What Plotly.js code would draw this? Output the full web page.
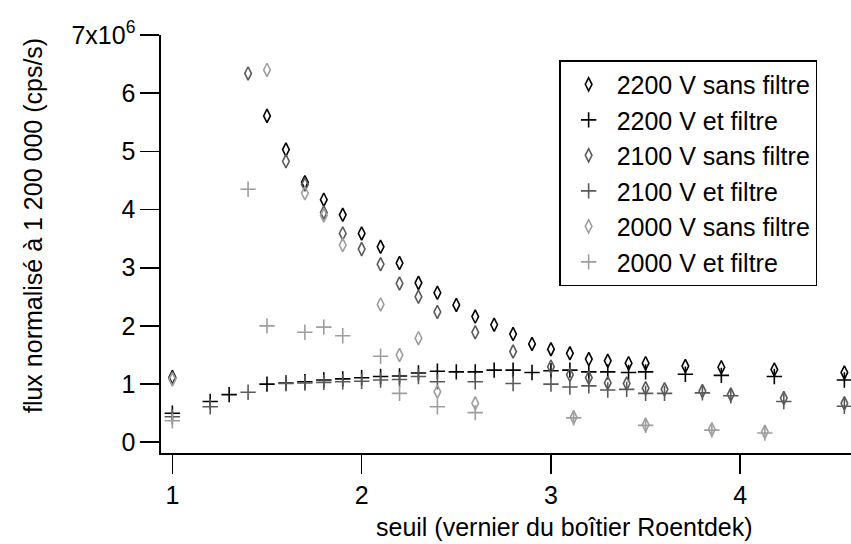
<!DOCTYPE html>
<html>
<head>
<meta charset="utf-8">
<script src="https://cdn.plot.ly/plotly-3.0.1.min.js"></script>
<style>html,body{margin:0;padding:0;background:#fff;}#chart{width:851px;height:544px;}</style>
</head>
<body>
<div id="chart"></div>
<script>
// seuil (vernier) values and normalised flux (in units of 10^6 cps/s)
const x2200Sans = [1.0,1.5,1.6,1.7,1.8,1.9,2.0,2.1,2.2,2.3,2.4,2.5,2.6,2.7,2.8,2.9,3.0,3.1,3.2,3.3,3.41,3.5,3.71,3.9,4.18,4.55];
const y2200Sans = [1.12,5.61,5.03,4.47,4.17,3.91,3.59,3.36,3.08,2.74,2.57,2.36,2.16,2.02,1.86,1.69,1.60,1.53,1.43,1.40,1.36,1.36,1.31,1.29,1.25,1.20];

const x2200Filtre = [1.0,1.2,1.3,1.5,1.6,1.7,1.8,1.9,2.0,2.1,2.2,2.3,2.4,2.5,2.6,2.7,2.8,2.9,3.0,3.1,3.2,3.3,3.41,3.5,3.71,3.9,4.18,4.55];
const y2200Filtre = [0.50,0.70,0.82,1.00,1.02,1.04,1.07,1.09,1.11,1.13,1.14,1.19,1.22,1.21,1.21,1.24,1.24,1.20,1.23,1.24,1.21,1.21,1.20,1.21,1.17,1.15,1.13,1.07];

const x2100Sans = [1.0,1.4,1.6,1.7,1.8,1.9,2.0,2.1,2.2,2.3,2.4,2.6,2.8,3.0,3.1,3.2,3.3,3.4,3.5,3.6,3.8,3.95,4.23,4.55];
const y2100Sans = [1.10,6.34,4.83,4.43,3.95,3.59,3.32,3.06,2.73,2.50,2.24,1.89,1.56,1.30,1.16,1.11,1.02,1.01,0.93,0.91,0.88,0.82,0.76,0.67];

const x2100Filtre = [1.0,1.2,1.4,1.6,1.7,1.8,1.9,2.0,2.1,2.2,2.3,2.4,2.6,2.8,3.0,3.1,3.2,3.3,3.4,3.5,3.6,3.8,3.95,4.23,4.55];
const y2100Filtre = [0.44,0.61,0.86,1.01,1.02,1.03,1.04,1.05,1.07,1.08,1.13,1.04,1.04,1.01,1.00,0.95,0.97,0.90,0.91,0.84,0.84,0.85,0.80,0.70,0.62];

const x2000Sans = [1.0,1.5,1.7,1.8,1.9,2.1,2.2,2.3,2.4,2.6,3.12,3.5,3.85,4.13];
const y2000Sans = [1.08,6.40,4.28,3.90,3.39,2.37,1.50,1.79,0.87,0.67,0.43,0.30,0.22,0.18];

const x2000Filtre = [1.0,1.4,1.5,1.7,1.8,1.9,2.1,2.2,2.4,2.6,3.12,3.5,3.85,4.13];
const y2000Filtre = [0.37,4.35,2.00,1.89,1.98,1.83,1.48,0.84,0.61,0.51,0.42,0.29,0.21,0.16];

const seriesNames = ["2200 V sans filtre","2200 V et filtre","2100 V sans filtre","2100 V et filtre","2000 V sans filtre","2000 V et filtre"];
const xTickVals = [1,2,3,4];
const yTickVals = [0,1,2,3,4,5,6,7];
const yTickText = ["0","1","2","3","4","5","6","7x10<sup>6</sup>"];

const FONT = "Liberation Sans, Arial, sans-serif";
const BLACK = "#000000", DARK = "#5a5a5a", LIGHT = "#9e9e9e";

function diamond(x, y, name, color) {
  return {x: x, y: y, name: name, type: "scatter", mode: "markers",
    marker: {symbol: "diamond-tall-open", size: 9.5, color: color, line: {color: color, width: 1.6}}};
}
function cross(x, y, name, color) {
  return {x: x, y: y, name: name, type: "scatter", mode: "markers",
    marker: {symbol: "cross-thin-open", size: 11, color: color, line: {color: color, width: 1.6}}};
}

const data = [
  diamond(x2200Sans, y2200Sans, seriesNames[0], BLACK),
  cross(x2200Filtre, y2200Filtre, seriesNames[1], BLACK),
  diamond(x2100Sans, y2100Sans, seriesNames[2], DARK),
  cross(x2100Filtre, y2100Filtre, seriesNames[3], DARK),
  diamond(x2000Sans, y2000Sans, seriesNames[4], LIGHT),
  cross(x2000Filtre, y2000Filtre, seriesNames[5], LIGHT)
];

const layout = {
  width: 851, height: 544,
  margin: {l: 161, r: 0, t: 35, b: 91, pad: 0},
  paper_bgcolor: "#fff", plot_bgcolor: "#fff",
  font: {family: FONT, size: 25, color: "#000"},
  showlegend: true,
  legend: {x: 0.577, y: 0.94, xanchor: "left", yanchor: "top",
    bordercolor: "#000", borderwidth: 1.5, bgcolor: "#fff",
    font: {family: FONT, size: 25, color: "#000"}, itemwidth: 46},
  xaxis: {range: [0.94, 4.585], showline: true, linecolor: "#000", linewidth: 1.6,
    ticks: "outside", ticklen: 19, tickwidth: 1.6, tickcolor: "#000",
    tickvals: xTickVals, showgrid: false, zeroline: false,
    tickfont: {family: FONT, size: 25, color: "#000"}},
  yaxis: {range: [-0.184, 7.0], showline: true, linecolor: "#000", linewidth: 1.6,
    ticks: "outside", ticklen: 19, tickwidth: 1.6, tickcolor: "#000",
    tickvals: yTickVals, ticktext: yTickText, showgrid: false, zeroline: false,
    tickfont: {family: FONT, size: 25, color: "#000"}},
  annotations: [
    {text: "seuil (vernier du boîtier Roentdek)", xref: "paper", yref: "paper",
     x: 0.5855, y: -0.177, xanchor: "center", yanchor: "middle", showarrow: false,
     font: {family: FONT, size: 25, color: "#000"}},
    {text: "flux normalisé à 1 200 000 (cps/s)", xref: "paper", yref: "paper",
     x: -0.1855, y: 0.543, xanchor: "center", yanchor: "middle", showarrow: false, textangle: -90,
     font: {family: FONT, size: 25, color: "#000"}}
  ]
};

Plotly.newPlot("chart", data, layout, {displayModeBar: false, staticPlot: true});
</script>
</body>
</html>
